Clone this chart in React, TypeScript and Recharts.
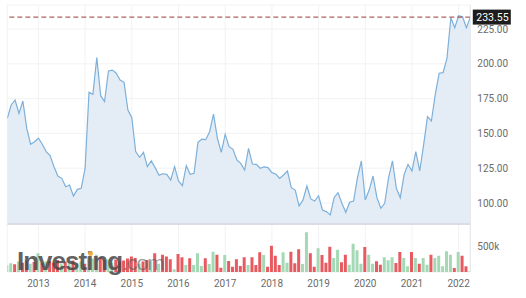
import React from 'react';
import { ComposedChart, Area, Bar, Cell, XAxis, YAxis, CartesianGrid, ReferenceLine } from 'recharts';

const START_YEAR = 2012;
const START_MONTH = 4; // May 2012, monthly points

const prices = [
  160.8, 170.4, 174, 164.4, 173.3, 153.6, 142.2, 144, 146.5, 142.2,
  136.9, 134, 126.1, 119.4, 117.7, 111.7, 112.9, 105, 109.8, 110.6,
  125, 179.5, 178, 204.4, 177.1, 172.8, 194.8, 195.5, 193.2, 188.4,
  186.7, 166.8, 161.3, 136.9, 132.8, 136.4, 126.1, 130.2, 125.4, 120,
  121, 120.6, 116.5, 126.1, 115.8, 112.4, 126.8, 120.6, 121.3, 143.6,
  145.8, 145.5, 151.2, 163.9, 146.5, 136.4, 149.4, 140.5, 138.6, 130.9,
  128.5, 123.7, 139.3, 128, 127.8, 125, 125.9, 125.4, 121.8, 120.8,
  117.7, 120.1, 123, 111, 109.3, 97.8, 102.2, 112.2, 102.9, 101.4,
  105.2, 95, 93.8, 91.4, 103.8, 107.4, 99.8, 93.3, 100.5, 101.4,
  118.2, 130.2, 102.2, 109.3, 119.4, 103.8, 96.2, 99.8, 118.2, 130.2,
  110.6, 103.8, 120.6, 127.8, 123, 136.9, 123, 141.7, 162, 158.9,
  178.1, 193.2, 193.6, 203.9, 233.1, 225.9, 234.5, 233.8, 225.9, 233.55,
];

const volumesK = [
  130, 170, 150, 200, 180, 220, 160, 190, 360, 170,
  200, 210, 180, 230, 150, 200, 180, 220, 170, 200,
  160, 300, 260, 330, 280, 230, 240, 180, 240, 200,
  220, 260, 300, 270, 160, 200, 230, 200, 360, 160,
  330, 300, 244, 52, 346, 283, 135, 263, 135, 360,
  115, 263, 154, 390, 333, 83, 327, 212, 102, 244,
  115, 283, 135, 283, 135, 379, 327, 102, 506, 313,
  135, 379, 179, 390, 167, 437, 154, 763, 360, 102,
  456, 327, 179, 487, 269, 429, 186, 333, 141, 545,
  417, 160, 481, 333, 160, 205, 141, 282, 224, 282,
  173, 385, 269, 109, 385, 269, 160, 269, 141, 333,
  269, 314, 109, 397, 333, 77, 385, 314, 109, 13,
];

// 1 = up month (green), 0 = down month (red)
const volumeUp = [
  1, 1, 0, 1, 0, 0, 1, 0, 1, 0,
  1, 0, 0, 0, 1, 0, 1, 0, 1, 1,
  0, 1, 1, 1, 0, 0, 1, 1, 0, 0,
  0, 0, 0, 0, 1, 0, 0, 1, 0, 1,
  0, 0, 0, 1, 0, 0, 1, 0, 1, 1,
  1, 0, 1, 1, 0, 0, 1, 0, 0, 0,
  0, 0, 1, 0, 0, 0, 1, 0, 0, 0,
  0, 1, 1, 0, 0, 0, 1, 1, 0, 0,
  1, 0, 0, 0, 1, 1, 0, 0, 1, 1,
  1, 1, 0, 1, 1, 0, 0, 1, 1, 1,
  0, 0, 1, 1, 0, 1, 0, 1, 1, 0,
  1, 1, 1, 1, 1, 0, 1, 0, 0, 1,
];

const yearTicks = [2013, 2014, 2015, 2016, 2017, 2018, 2019, 2020, 2021, 2022];
const priceTicks = [100, 125, 150, 175, 200, 225];
const volumeTickK = 500;
const lastPrice = 233.55;

const data = prices.map((p, i) => ({
  t: START_YEAR + (START_MONTH + i) / 12,
  price: p,
  vol: volumesK[i] * 1000,
  up: volumeUp[i],
}));

const FONT = 'Roboto, "Noto Sans", sans-serif';

const PriceTag = (props: any) => {
  const vb = props.viewBox || {};
  const x = (vb.x || 0) + (vb.width || 0);
  const y = vb.y || 0;
  return (
    <g>
      <rect x={x + 2.5} y={y - 7.5} width={38} height={15} fill="#1d1d1d" />
      <text x={x + 6} y={y + 4} fill="#ffffff" fontSize={10.5} fontFamily={FONT}>
        {lastPrice.toFixed(2)}
      </text>
    </g>
  );
};

export default function App() {
  return (
    <div style={{ position: 'absolute', left: 0, top: 0, width: 526, height: 298, background: '#fff' }}>
      <ComposedChart
        width={526}
        height={298}
        data={data}
        margin={{ top: 5, right: 0.7, left: 7.3, bottom: 0 }}
      >
        <CartesianGrid yAxisId="price" stroke="#f1f2f4" strokeWidth={1} />
        <XAxis
          dataKey="t"
          type="number"
          domain={['dataMin', 'dataMax']}
          ticks={yearTicks}
          tickFormatter={(v: number) => String(Math.round(v))}
          axisLine={false}
          tickLine={false}
          tickSize={0}
          tickMargin={8}
          height={26}
          tick={{ fill: '#6b6b6b', fontSize: 10, fontFamily: FONT }}
          allowDataOverflow
        />
        <YAxis
          yAxisId="price"
          orientation="right"
          domain={[50.43, 242.24]}
          ticks={priceTicks}
          tickFormatter={(v: number) => v.toFixed(2)}
          width={55}
          axisLine={{ stroke: '#e4e6ea' }}
          tickLine={false}
          tickSize={0}
          tickMargin={7}
          tick={{ fill: '#6b6b6b', fontSize: 10, fontFamily: FONT }}
          allowDataOverflow
        />
        <YAxis yAxisId="vol" hide domain={[0, 5135000]} allowDataOverflow />
        <Bar yAxisId="vol" dataKey="vol" barSize={3} isAnimationActive={false}>
          {data.map((d, i) => (
            <Cell key={i} fill={d.up ? '#a5d8b4' : '#e65a60'} />
          ))}
        </Bar>
        <Area
          yAxisId="price"
          type="linear"
          dataKey="price"
          baseValue={85.6}
          stroke="#7db0da"
          strokeWidth={1.2}
          fill="#e4edf5"
          fillOpacity={1}
          dot={false}
          activeDot={false}
          isAnimationActive={false}
        />
        <ReferenceLine yAxisId="price" y={84.9} stroke="#dadee4" strokeWidth={2} />
        <ReferenceLine
          yAxisId="vol"
          y={volumeTickK * 1000}
          stroke="none"
          label={{ value: `${volumeTickK}k`, position: 'right', offset: 7, fill: '#6b6b6b', fontSize: 10, fontFamily: FONT }}
        />
        <ReferenceLine
          yAxisId="price"
          y={lastPrice}
          stroke="#9a3c3c"
          strokeWidth={1}
          strokeDasharray="5 3"
          label={<PriceTag />}
        />
      </ComposedChart>
      <div
        style={{
          position: 'absolute',
          left: 17,
          top: 246,
          fontFamily: '"Liberation Sans", Arial, sans-serif',
          fontSize: 26,
          lineHeight: '30px',
          letterSpacing: -1,
          whiteSpace: 'nowrap',
          pointerEvents: 'none',
        }}
      >
        <span style={{ fontWeight: 700, color: 'rgba(70,70,70,0.85)' }}>Investing</span>
        <span style={{ fontWeight: 400, color: 'rgba(90,90,90,0.6)', fontSize: 21 }}>.com</span>
      </div>
      <div
        style={{
          position: 'absolute',
          left: 88,
          top: 251,
          width: 5,
          height: 5,
          borderRadius: '50%',
          background: 'rgba(240,170,60,0.9)',
        }}
      />
    </div>
  );
}
